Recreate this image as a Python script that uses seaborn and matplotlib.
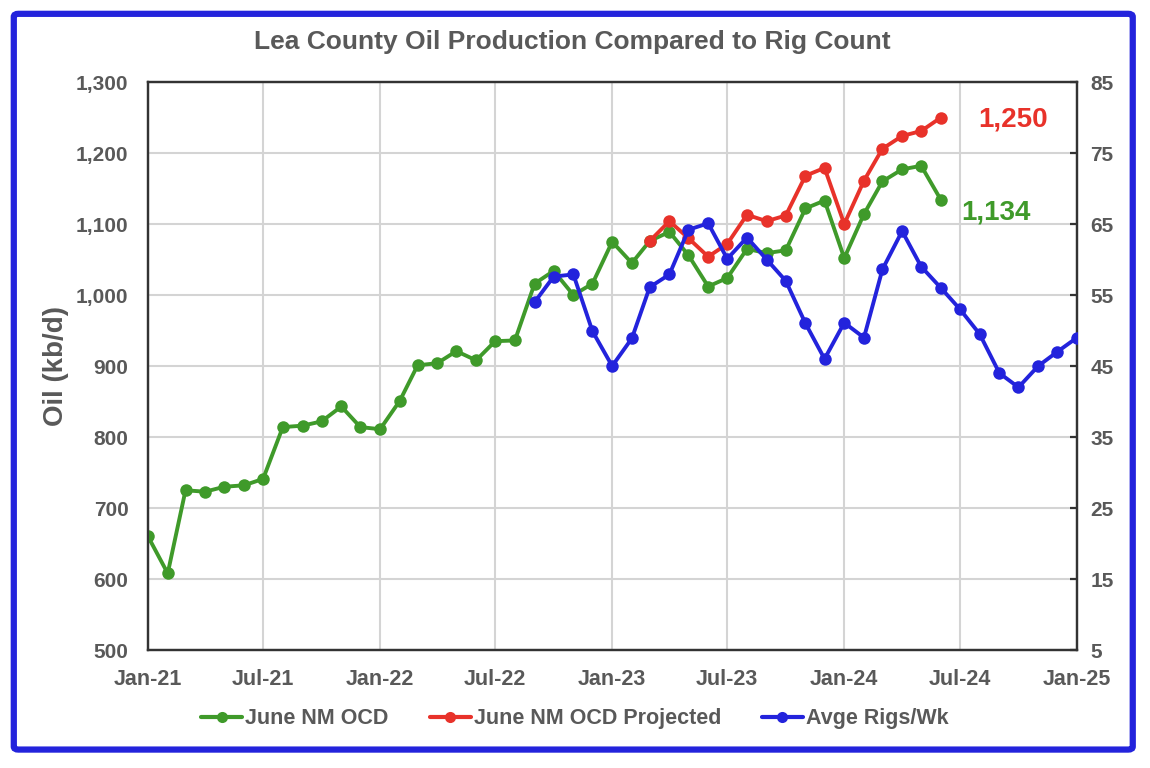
import numpy as np
import pandas as pd
import seaborn as sns
import matplotlib.pyplot as plt
import matplotlib.dates as mdates
from matplotlib.patches import FancyBboxPatch
from matplotlib.lines import Line2D
from matplotlib.ticker import FuncFormatter

# --- data ---
ocd_start = "2021-01-01"
ocd_oil = [660, 608, 725, 723, 730, 732, 741, 814, 816, 822, 843, 814,
           811, 851, 901, 904, 921, 908, 935, 936, 1016, 1034, 1000, 1016,
           1075, 1045, 1076, 1089, 1056, 1012, 1024, 1065, 1059, 1063, 1122, 1133,
           1052, 1114, 1160, 1177, 1182, 1134]

proj_start = "2023-03-01"
proj_oil = [1076, 1104, 1080, 1054, 1072, 1113, 1104, 1112, 1168, 1179,
            1100, 1161, 1206, 1224, 1231, 1250]

rigs_start = "2022-09-01"
rigs = [54.0, 57.6, 57.9, 49.9, 45.0, 48.9, 56.1, 57.9, 64.2, 65.1, 60.1, 63.1,
        60.0, 57.0, 51.0, 46.0, 51.1, 49.0, 58.6, 64.0, 59.0, 56.0, 53.0, 49.5,
        44.0, 42.0, 45.0, 47.0, 49.0]

labels = ["June NM OCD", "June NM OCD Projected", "Avge Rigs/Wk"]
colors = ["#3F9A2A", "#E8322A", "#2323DC"]
txt = "#595959"

df_ocd = pd.DataFrame({"date": pd.date_range(ocd_start, periods=len(ocd_oil), freq="MS"),
                       "oil": ocd_oil})
df_proj = pd.DataFrame({"date": pd.date_range(proj_start, periods=len(proj_oil), freq="MS"),
                        "oil": proj_oil})
df_rigs = pd.DataFrame({"date": pd.date_range(rigs_start, periods=len(rigs), freq="MS"),
                        "rigs": rigs})

sns.set_theme(style="white")
plt.rcParams["font.family"] = ["Liberation Sans", "DejaVu Sans"]
plt.rcParams["font.weight"] = "bold"

fig = plt.figure(figsize=(11.5, 7.68), dpi=100)
ax = fig.add_axes([0.1287, 0.1536, 0.8078, 0.7396])
ax2 = ax.twinx()

line_kw = dict(marker="o", markersize=9, linewidth=2.8, markeredgewidth=0)
sns.lineplot(data=df_ocd, x="date", y="oil", ax=ax, color=colors[0], zorder=3, **line_kw)
sns.lineplot(data=df_proj, x="date", y="oil", ax=ax, color=colors[1], zorder=4, **line_kw)
sns.lineplot(data=df_rigs, x="date", y="rigs", ax=ax2, color=colors[2], zorder=5, **line_kw)

# axes ranges and ticks
ax.set_xlim(pd.Timestamp("2021-01-01"), pd.Timestamp("2025-01-01"))
ax.set_ylim(500, 1300)
ax.set_yticks(np.arange(500, 1301, 100))
ax.yaxis.set_major_formatter(FuncFormatter(lambda v, p: f"{int(v):,}"))
ax.xaxis.set_major_locator(mdates.MonthLocator(bymonth=[1, 7]))
ax.xaxis.set_major_formatter(mdates.DateFormatter("%b-%y"))
ax2.set_ylim(5, 85)
ax2.set_yticks(np.arange(5, 86, 10))

ax.grid(True, color="#D4D4D4", linewidth=1.5)
ax.set_axisbelow(True)
for a in (ax, ax2):
    for s in a.spines.values():
        s.set_color("#333333")
        s.set_linewidth(1.6)
    a.set_xlabel("")
    a.set_ylabel("")

ax.tick_params(axis="y", labelsize=15, colors=txt, length=0, pad=14)
ax.tick_params(axis="x", labelsize=15.5, colors=txt, length=0, pad=14)
ax2.tick_params(axis="y", labelsize=15, colors=txt, direction="in", length=5,
                width=1.6, color="#333333", pad=9.5)
for lab in ax.get_xticklabels() + ax.get_yticklabels() + ax2.get_yticklabels():
    lab.set_fontweight("bold")

ax.set_ylabel("Oil (kb/d)", fontsize=20, fontweight="bold", color=txt)
ax.yaxis.set_label_coords(-0.085, 0.5)

fig.text(0.498, 0.945, "Lea County Oil Production Compared to Rig Count",
         ha="center", va="center", fontsize=19, fontweight="bold", color=txt)

# end-value labels
ax.annotate(f"{proj_oil[-1]:,}", xy=(df_proj["date"].iloc[-1], proj_oil[-1]),
            xytext=(37, -2), textcoords="offset pixels", ha="left", va="center",
            fontsize=20, fontweight="bold", color=colors[1])
ax.annotate(f"{ocd_oil[-1]:,}", xy=(df_ocd["date"].iloc[-1], ocd_oil[-1]),
            xytext=(20, -13), textcoords="offset pixels", ha="left", va="center",
            fontsize=20, fontweight="bold", color=colors[0])

handles = [Line2D([0], [0], color=c, marker="o", markersize=8, linewidth=3,
                  markeredgewidth=0) for c in colors]
fig.legend(handles, labels, loc="center", bbox_to_anchor=(0.5, 0.064), ncol=3,
           frameon=False, prop={"size": 15.5, "weight": "bold"}, labelcolor=txt,
           handlelength=1.9, handletextpad=0.15, columnspacing=1.9)

border = FancyBboxPatch((0.012, 0.024), 0.973, 0.958, boxstyle="round,pad=0,rounding_size=0.004",
                        transform=fig.transFigure, fill=False, edgecolor="#2323DC",
                        linewidth=4.5)
fig.patches.append(border)

fig.savefig("out.png", dpi=100)
plt.close(fig)
